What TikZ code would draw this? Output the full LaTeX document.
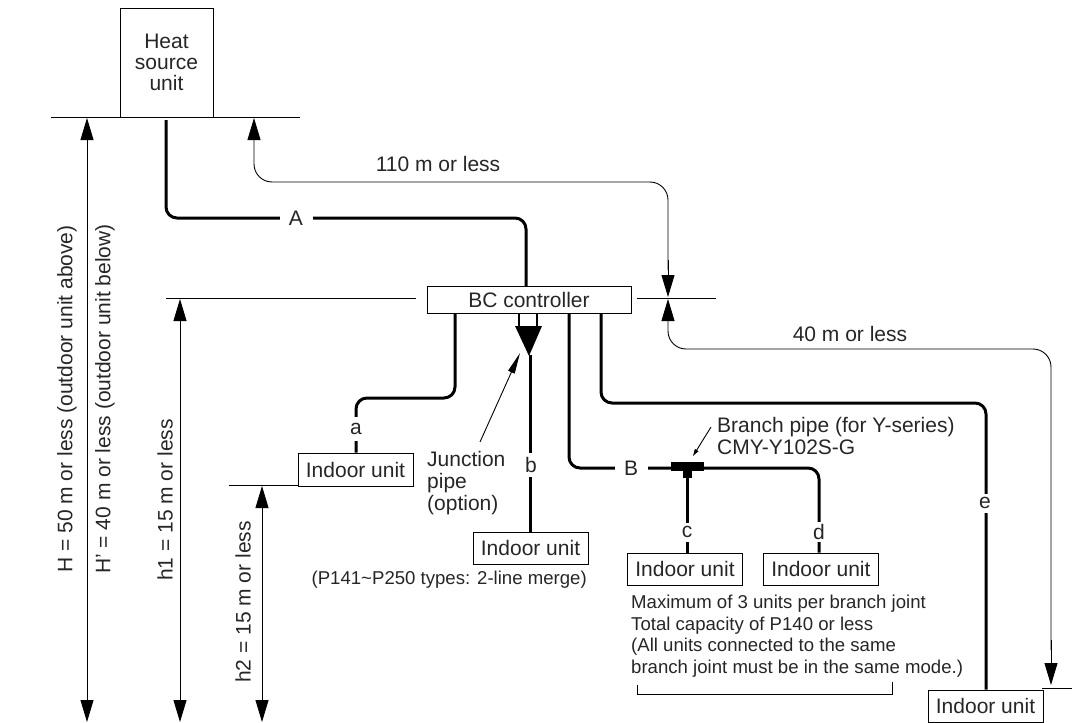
\documentclass[tikz,border=0pt]{standalone}
\usepackage{fontspec}
\setmainfont{Liberation Sans}
\usetikzlibrary{arrows.meta,positioning}
\tikzset{block/.style={draw,
                       rectangle,
                       line width=.9pt,
                       inner sep=0pt,
                       text=black!85,
                       font=\fontsize{21}{21}\selectfont,
                       align=center},
         indoor/.style={block,
                        minimum height=33pt,
                        minimum width=115pt},
         pipe/.style={line width=3pt,
                      rounded corners=11pt},
         thin line/.style={line width=.9pt},
         dim/.style={line width=.9pt,
                     rounded corners=18pt},
         tag/.style={fill=white,
                     inner sep=0pt,
                     text=black!85,
                     minimum width=33pt,
                     minimum height=24pt,
                     font=\fontsize{21}{21}\selectfont},
         label/.style={font=\fontsize{21}{21.7}\selectfont,
                       text=black!85,
                       inner sep=0pt},
         note/.style={font=\fontsize{18.6}{21.5}\selectfont,
                      text=black!85,
                      align=left,
                      inner sep=0pt}}

\begin{document}
\begin{tikzpicture}[x=1pt,y=-1pt,>={Triangle[length=22pt,width=13pt]}]
    \useasboundingbox (0,0) rectangle (1072,723);
    % We start by placing the blocks
    \node [block, minimum width=93pt, minimum height=109pt] (Heat) at (166.5,62.5) {Heat\\source\\unit};
    \node [block, minimum width=204pt, minimum height=27pt] (BC) at (529,299.5) {BC controller};
    \node [indoor] (IndoorA) at (355.5,469.5) {Indoor unit};
    \node [indoor, minimum height=32pt] (IndoorB) at (530.5,548) {Indoor unit};
    \node [indoor, minimum height=32pt] (IndoorC) at (685,569) {Indoor unit};
    \node [indoor, minimum height=32pt, right=20pt of IndoorC] (IndoorD) {Indoor unit};
    \node [indoor, minimum height=32pt] (IndoorE) at (985.5,706) {Indoor unit};
    % Floor lines and the end points of the dimensions
    \coordinate (Floor1) at (51,117);
    \coordinate (Floor2) at (300,117);
    \coordinate (Level1) at (166,298);
    \coordinate (Level2) at (416,298);
    \coordinate (Level3) at (637,298);
    \coordinate (Level4) at (716,298);
    \coordinate (Level5) at (229,485);
    \coordinate (Level6) at (298,485);
    \coordinate (Level7) at (1042,688);
    \coordinate (Level8) at (1072,688);
    \draw [thin line] (Floor1) -- (Floor2);
    \draw [thin line] (Level1) -- (Level2);
    \draw [thin line] (Level3) -- (Level4);
    \draw [thin line] (Level5) -- (Level6);
    \draw [thin line] (Level7) -- (Level8);
    % The pipes from the controller
    \coordinate (StartA) at (166,120);
    \coordinate (TeeL) at (671,468);
    \coordinate (TeeR) at (704,468);
    \draw [pipe] (StartA) |- (526,218) -- (526,286);
    \draw [pipe] (455,313) |- (356,398) -- (IndoorA.north -| 356,0);
    \draw [pipe] (569,313) |- (TeeL);
    \draw [pipe] (TeeR) -| (IndoorD.north -| 819,0);
    \draw [pipe] (687,474) -- (IndoorC.north -| 687,0);
    \draw [pipe] (601,313) |- (986,403) -- (IndoorE.north -| 986,0);
    \draw [pipe] (530,355) -- (IndoorB.north -| 530,0);
    % Junction and branch pieces
    \draw [line width=1.6pt] (519,313) -- (519,326);
    \draw [line width=1.6pt] (537,313) -- (537,326);
    \fill (515,326) -- (542,326) -- (529,356) -- cycle;
    \fill (671,462) rectangle (704,471);
    \fill (683,471) rectangle (692,478);
    % Now the dimensions
    \draw [dim, <->] (87,118) -- (87,722);
    \draw [dim, <->] (180,299) -- (180,722);
    \draw [dim, <->] (262,486) -- (262,722);
    \draw [dim, <-] (254,118) |- (668,182) -- (668,270);
    \draw [thin line, ->] (668,260) -- (668,297);
    \draw [dim, <-] (668,299) |- (1051,349) -- (1051,650);
    \draw [thin line, ->] (1051,640) -- (1051,685);
    % Arrows to the fittings
    \draw [thin line, -{Triangle[length=21pt,width=7pt]}] (480,442) -- (520,353);
    \draw [thin line, -{Triangle[length=7pt,width=4pt]}] (711,427) -- (693,456);
    % Labels on the pipes
    \node [tag] (TagA) at (296,218) {A};
    \node [tag] (TagSmallA) at (356,429) {a};
    \node [tag] (TagSmallB) at (531,465) {b};
    \node [tag] (TagB) at (631,468) {B};
    \node [tag, minimum height=19pt] (TagC) at (687,532) {c};
    \node [tag, minimum height=20pt] (TagD) at (819,532) {d};
    \node [tag, minimum height=19pt] (TagE) at (985,503) {e};
    % Labels of the dimensions
    \node [label] (Len110) at (438,164) {110 m or less};
    \node [label] (Len40) at (850,334) {40 m or less};
    \node [label, rotate=90] (LabelH) at (67,399) {H = 50 m or less (outdoor unit above)};
    \node [label, rotate=90] (LabelHp) at (105,399) {H’ = 40 m or less (outdoor unit below)};
    \node [label, rotate=90] (LabelH1) at (165,500) {h1 = 15 m or less};
    \node [label, rotate=90] (LabelH2) at (243,602) {h2 = 15 m or less};
    % Notes
    \node [label, align=left, anchor=west] (Junction) at (427,483) {Junction\\pipe\\(option)};
    \node [label, align=left, anchor=west] (Branch) at (717,436) {Branch pipe (for Y-series)\\CMY-Y102S-G};
    \node [note, anchor=east] (Merge) at (587,580) {(P141\char`\~P250 types: 2-line merge)};
    \node [note, anchor=north west] (Rules) at (631,595) {Maximum of 3 units per branch joint\\Total capacity of P140 or less\\(All units connected to the same\\branch joint must be in the same mode.)};
    \draw [thin line] (637,685) |- (892,694) -- (892,682);
\end{tikzpicture}
\end{document}
